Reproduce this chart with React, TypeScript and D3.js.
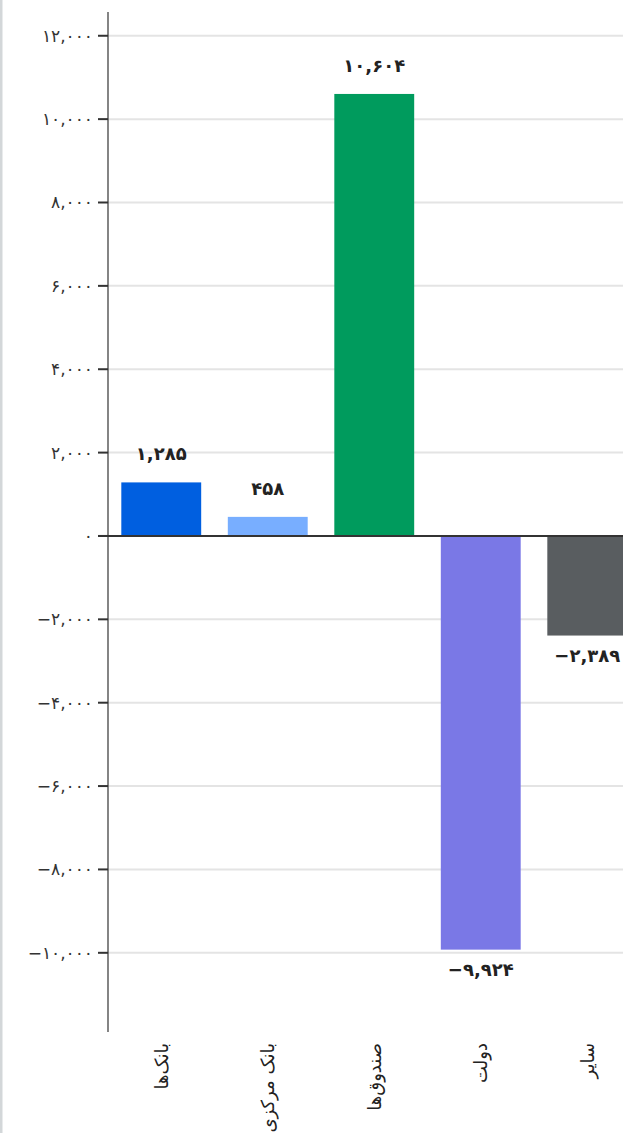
import React from "react";
import * as d3 from "d3";

const categories = ["بانک‌ها", "بانک مرکزی", "صندوق‌ها", "دولت", "سایر"];
const values = [1285, 458, 10604, -9924, -2389];
const colors = ["#005fe0", "#78aeff", "#009b5d", "#7a78e6", "#595d60"];
const yTicks = [-10000, -8000, -6000, -4000, -2000, 0, 2000, 4000, 6000, 8000, 10000, 12000];

const W = 623;
const H = 1133;

const faDigits = "۰۱۲۳۴۵۶۷۸۹";
const toFa = (s: string) => s.replace(/[0-9]/g, (d) => faDigits[+d]);
const fmt = (v: number) => toFa(d3.format(",")(v));

export default function App() {
  const axisX = 108;
  const y = d3.scaleLinear().domain([-11900, 12570]).range([1032, 12]);
  const x = d3
    .scaleBand<string>()
    .domain(categories)
    .range([axisX, 640.5])
    .paddingInner(0.25)
    .paddingOuter(0.125);
  const font = "'DejaVu Sans', 'Noto Sans', sans-serif";

  return (
    <svg
      width={W}
      height={H}
      style={{ position: "absolute", left: 0, top: 0, background: "#fff" }}
      fontFamily={font}
    >
      <rect x={0} y={0} width={2.5} height={H} fill="#d3d7d9" />
      {yTicks.map((t) => (
        <line
          key={"g" + t}
          x1={axisX}
          x2={W}
          y1={y(t)}
          y2={y(t)}
          stroke="#e4e4e4"
          strokeWidth={2}
        />
      ))}
      {values.map((v, i) => (
        <rect
          key={"b" + i}
          x={x(categories[i])}
          width={x.bandwidth()}
          y={y(Math.max(0, v))}
          height={Math.abs(y(v) - y(0))}
          fill={colors[i]}
        />
      ))}
      <line x1={axisX - 10} x2={W} y1={y(0)} y2={y(0)} stroke="#333" strokeWidth={2} />
      <line x1={axisX} x2={axisX} y1={y.range()[1]} y2={y.range()[0]} stroke="#333" strokeWidth={1.2} />
      {yTicks.map((t) => (
        <g key={"t" + t}>
          <line x1={axisX - 10} x2={axisX} y1={y(t)} y2={y(t)} stroke="#333" strokeWidth={2} />
          <text
            x={axisX - 15}
            y={y(t)}
            dy="0.35em"
            textAnchor="end"
            fontSize={17}
            fill="#333"
          >
            {fmt(t)}
          </text>
        </g>
      ))}
      {values.map((v, i) => (
        <text
          key={"v" + i}
          x={(x(categories[i]) as number) + x.bandwidth() / 2}
          y={v >= 0 ? y(v) - 22 : y(v) + 26}
          textAnchor="middle"
          fontSize={18}
          fontWeight="bold"
          fill="#222"
        >
          {fmt(v)}
        </text>
      ))}
      {categories.map((c, i) => (
        <text
          key={"x" + i}
          transform={`translate(${(x(c) as number) + x.bandwidth() / 2},1043) rotate(-90)`}
          textAnchor="end"
          dy="0.35em"
          fontSize={18}
          fill="#222"
        >
          {c}
        </text>
      ))}
    </svg>
  );
}
